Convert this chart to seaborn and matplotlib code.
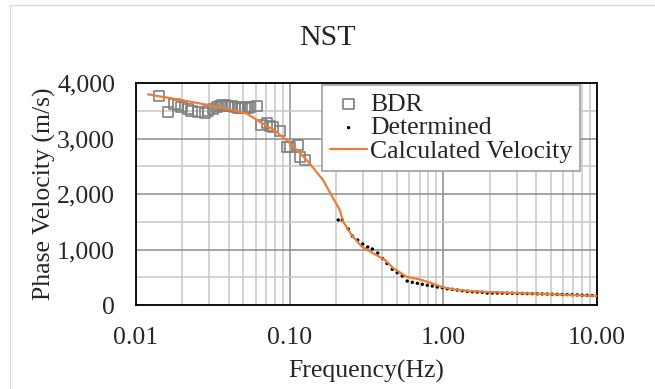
import numpy as np
import pandas as pd
import matplotlib
matplotlib.use("Agg")
import matplotlib.pyplot as plt
import seaborn as sns
from matplotlib.ticker import FixedLocator, FuncFormatter
from matplotlib.patches import Rectangle

# ── data ────────────────────────────────────────────────────
bdr_freq = [0.0141, 0.0161, 0.0178, 0.0187, 0.0198, 0.0219, 0.0230, 0.0254, 0.0281,
            0.0295, 0.0318, 0.0335, 0.0351, 0.0361, 0.0380, 0.0399, 0.0420, 0.0441,
            0.0460, 0.0475, 0.0490, 0.0512, 0.0535, 0.0552, 0.0610, 0.0657, 0.0709,
            0.0745, 0.0782, 0.0865, 0.0956, 0.1005, 0.1138, 0.1167, 0.1258]
bdr_vel = [3766, 3477, 3627, 3609, 3568, 3537, 3490, 3477, 3465,
           3490, 3537, 3568, 3586, 3604, 3595, 3586, 3580, 3573,
           3560, 3544, 3550, 3544, 3560, 3573, 3586, 3243, 3274,
           3225, 3202, 3141, 2841, 2852, 2883, 2672, 2613]

det_freq = [0.207, 0.220, 0.241, 0.256, 0.277, 0.299, 0.322, 0.345, 0.374, 0.402,
            0.430, 0.465, 0.501, 0.540, 0.582, 0.628, 0.677, 0.729, 0.786, 0.847,
            0.913, 0.984, 1.060, 1.143, 1.232, 1.327, 1.431, 1.542, 1.662, 1.791,
            1.930, 2.081, 2.243, 2.417, 2.605, 2.807, 3.025, 3.260, 3.514, 3.787,
            4.081, 4.398, 4.740, 5.108, 5.505, 5.933, 6.394, 6.891, 7.426, 8.003,
            8.625, 9.295, 10.0]
det_vel = [1532, 1532, 1369, 1243, 1171, 1099, 1045, 1009, 937, 838,
           748, 643, 582, 523, 432, 409, 391, 373, 355, 342,
           324, 312, 294, 283, 270, 258, 247, 240, 234, 229,
           216, 216, 216, 215, 213, 212, 210, 208, 206, 205,
           203, 200, 198, 196, 193, 190, 188, 185, 182, 178,
           175, 170, 165]

calc_freq = [0.0120, 0.0200, 0.0300, 0.0400, 0.0525, 0.0641, 0.0782, 0.0955, 0.117,
             0.132, 0.165, 0.192, 0.212, 0.223, 0.253, 0.295, 0.350, 0.418, 0.474,
             0.576, 0.700, 0.820, 1.00, 1.16, 1.49, 2.00, 3.00, 4.90, 7.00, 10.0]
calc_vel = [3796, 3690, 3600, 3530, 3450, 3300, 3160, 2973, 2733,
            2580, 2252, 1922, 1712, 1501, 1261, 1050, 931, 811, 661,
            510, 463, 402, 319, 283, 252, 234, 215, 198, 180, 162]

x_ticks = [0.01, 0.1, 1, 10]
y_ticks = [0, 1000, 2000, 3000, 4000]

bdr = pd.DataFrame({'freq': bdr_freq, 'vel': bdr_vel})
det = pd.DataFrame({'freq': det_freq, 'vel': det_vel})
calc = pd.DataFrame({'freq': calc_freq, 'vel': calc_vel})

# ── style ───────────────────────────────────────────────────
sns.set_style("white")
plt.rcParams['font.family'] = ['Liberation Serif', 'DejaVu Serif']
FS = 18.5

fig = plt.figure(figsize=(6.55, 3.89), dpi=100)
ax = fig.add_axes([0.2076, 0.2159, 0.7039, 0.5707])

# chart area border
fig.patches.append(Rectangle((10 / 655, -0.05), 1.0, 1.05 - 5 / 389,
                             transform=fig.transFigure, fill=False,
                             edgecolor='#d9d9d9', linewidth=1.0))

ax.set_xscale('log')
ax.set_xlim(0.01, 10)
ax.set_ylim(0, 4000)

# grid: major dark, minor light
ax.xaxis.set_minor_locator(FixedLocator(
    [m * 10.0 ** e for e in (-2, -1, 0) for m in range(2, 10)]))
ax.yaxis.set_minor_locator(FixedLocator([500, 1500, 2500, 3500]))
ax.grid(which='major', color='#8c8c8c', linewidth=1.1)
ax.grid(which='minor', color='#c8c8c8', linewidth=1.1)
ax.set_axisbelow(True)

sns.scatterplot(data=bdr, x='freq', y='vel', ax=ax, marker='s', s=55,
                facecolor='none', edgecolor='#808080', linewidth=1.2,
                label='BDR', zorder=3)
sns.scatterplot(data=det, x='freq', y='vel', ax=ax, marker='o', s=6,
                color='black', edgecolor='none', label='Determined', zorder=4)
sns.lineplot(data=calc, x='freq', y='vel', ax=ax, sort=False, estimator=None,
             color='#ED7D31', linewidth=1.6, label='Calculated Velocity', zorder=5)

ax.xaxis.set_major_locator(FixedLocator(x_ticks))
ax.yaxis.set_major_locator(FixedLocator(y_ticks))
ax.xaxis.set_major_formatter(FuncFormatter(lambda v, p: f"{v:.2f}"))
ax.yaxis.set_major_formatter(FuncFormatter(lambda v, p: f"{int(v):,}"))
ax.tick_params(axis='both', which='both', length=0, labelsize=FS)
ax.tick_params(axis='x', pad=16)
ax.tick_params(axis='y', pad=15)

for sp in ax.spines.values():
    sp.set_color('black')
    sp.set_linewidth(1.3)

ax.set_xlabel('Frequency(Hz)', fontsize=FS, labelpad=8)
ax.set_ylabel('Phase Velocity (m/s)', fontsize=FS, labelpad=1)
fig.suptitle('NST', fontsize=21.5, y=0.935)

leg = ax.legend(loc='upper left', bbox_to_anchor=(0.404, 0.99), fontsize=FS,
                frameon=True, fancybox=False, borderpad=0.3, labelspacing=0.02,
                handlelength=1.45, handletextpad=0.12, borderaxespad=0)
leg.get_frame().set_edgecolor('#a0a0a0')
leg.get_frame().set_linewidth(1.2)
leg.get_frame().set_alpha(1)

fig.savefig('out.png', dpi=100)
